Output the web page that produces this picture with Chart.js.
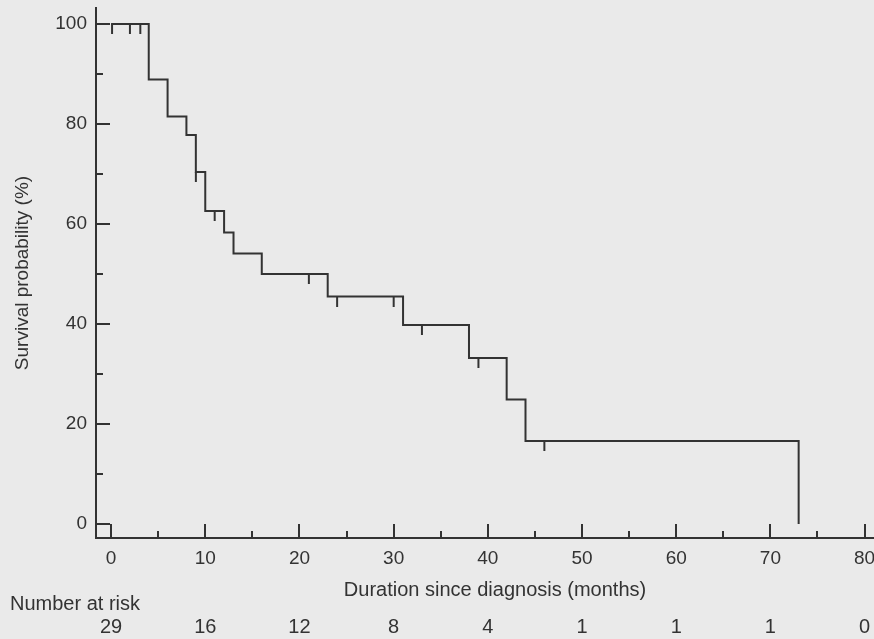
<!DOCTYPE html>
<html>
<head>
<meta charset="utf-8">
<script src="https://cdn.jsdelivr.net/npm/chart.js@4/dist/chart.umd.min.js"></script>
<style>
  html, body { margin: 0; padding: 0; background: #eaeaea; }
  canvas { display: block; }
</style>
</head>
<body>
<canvas id="kmChart" width="874" height="639"></canvas>
<script>
// Kaplan-Meier curve
var times = [0, 4, 6, 8, 9, 10, 12, 13, 16, 23, 31, 38, 42, 44, 73];
var survival = [100, 88.9, 81.5, 77.8, 70.4, 62.6, 58.3, 54.1, 50.0, 45.5, 39.8, 33.2, 24.9, 16.6, 0];

// censored observations
var censorTimes = [0.1, 2, 3.1, 9, 11, 21, 24, 30, 33, 39, 46];
var censorSurvival = [100, 100, 100, 70.4, 62.6, 50.0, 45.5, 45.5, 39.8, 33.2, 16.6];

var xTicks = [0, 10, 20, 30, 40, 50, 60, 70, 80];
var xMinorTicks = [5, 15, 25, 35, 45, 55, 65, 75];
var yTicks = [0, 20, 40, 60, 80, 100];
var yMinorTicks = [10, 30, 50, 70, 90];

var atRisk = [29, 16, 12, 8, 4, 1, 1, 1, 0];

var ink = "#333333";
var fontFamily = "'Liberation Sans', Arial, sans-serif";

var ctx = document.getElementById("kmChart").getContext("2d");

// small vertical dash hanging below the curve, used as censor mark
var censorMark = document.createElement("canvas");
censorMark.width = 4;
censorMark.height = 20;
var cm = censorMark.getContext("2d");
cm.strokeStyle = ink;
cm.lineWidth = 2;
cm.beginPath();
cm.moveTo(2, 10);
cm.lineTo(2, 20);
cm.stroke();

var stepData = times.map(function (t, i) {
  return { x: t, y: survival[i] };
});
var censorData = censorTimes.map(function (t, i) {
  return { x: t, y: censorSurvival[i] };
});

var axisTicks = {
  id: "axisTicks",
  afterDraw: function (chart) {
    var c = chart.ctx;
    var xs = chart.scales.x;
    var ys = chart.scales.y;
    var xBase = xs.top;
    var yBase = ys.right;
    c.save();
    c.strokeStyle = ink;
    c.lineWidth = 2;
    c.beginPath();
    xTicks.forEach(function (v) {
      var px = Math.round(xs.getPixelForValue(v));
      c.moveTo(px, xBase);
      c.lineTo(px, xBase - 14);
    });
    xMinorTicks.forEach(function (v) {
      var px = Math.round(xs.getPixelForValue(v));
      c.moveTo(px, xBase);
      c.lineTo(px, xBase - 7);
    });
    yTicks.forEach(function (v) {
      var py = Math.round(ys.getPixelForValue(v));
      c.moveTo(yBase, py);
      c.lineTo(yBase + 14, py);
    });
    yMinorTicks.forEach(function (v) {
      var py = Math.round(ys.getPixelForValue(v));
      c.moveTo(yBase, py);
      c.lineTo(yBase + 7, py);
    });
    c.stroke();

    // x title and number at risk table
    c.fillStyle = ink;
    c.font = "20px " + fontFamily;
    c.textBaseline = "alphabetic";
    c.textAlign = "center";
    c.fillText("Duration since diagnosis (months)", 495, 596);
    c.textAlign = "left";
    c.fillText("Number at risk", 10, 610);
    c.textAlign = "center";
    xTicks.forEach(function (v, i) {
      c.fillText(String(atRisk[i]), xs.getPixelForValue(v), 633);
    });
    c.restore();
  }
};

var kmChart = new Chart(ctx, {
  type: "line",
  plugins: [axisTicks],
  data: {
    datasets: [
      {
        label: "Survival",
        data: stepData,
        stepped: "before",
        borderColor: ink,
        borderWidth: 2,
        borderJoinStyle: "miter",
        pointRadius: 0,
        fill: false
      },
      {
        type: "scatter",
        label: "Censored",
        data: censorData,
        pointStyle: censorMark,
        pointRadius: 5,
        showLine: false
      }
    ]
  },
  options: {
    responsive: false,
    animation: false,
    devicePixelRatio: 1,
    layout: {
      autoPadding: false,
      padding: { top: 8, left: 0, right: 0, bottom: 0 }
    },
    plugins: {
      legend: { display: false },
      tooltip: { enabled: false }
    },
    scales: {
      x: {
        type: "linear",
        min: -1.6,
        max: 81,
        grid: { display: false, drawTicks: false },
        border: { display: true, color: ink, width: 2 },
        ticks: {
          color: ink,
          font: { family: fontFamily, size: 19 },
          padding: 9,
          maxRotation: 0,
          autoSkip: false
        },
        afterBuildTicks: function (scale) {
          scale.ticks = xTicks.map(function (v) { return { value: v }; });
        },
        afterFit: function (scale) {
          scale.height = 101;
          scale.paddingLeft = 0;
          scale.paddingRight = 0;
        }
      },
      y: {
        type: "linear",
        min: -2.8,
        max: 103.2,
        grid: { display: false, drawTicks: false },
        border: { display: true, color: ink, width: 2 },
        title: {
          display: true,
          text: "Survival probability (%)",
          color: ink,
          font: { family: fontFamily, size: 19 },
          padding: { top: 11, bottom: 0 }
        },
        ticks: {
          color: ink,
          font: { family: fontFamily, size: 19 },
          padding: 9,
          autoSkip: false
        },
        afterBuildTicks: function (scale) {
          scale.ticks = yTicks.map(function (v) { return { value: v }; });
        },
        afterFit: function (scale) {
          scale.width = 96;
          scale.paddingTop = 0;
          scale.paddingBottom = 0;
        }
      }
    }
  }
});
</script>
</body>
</html>
